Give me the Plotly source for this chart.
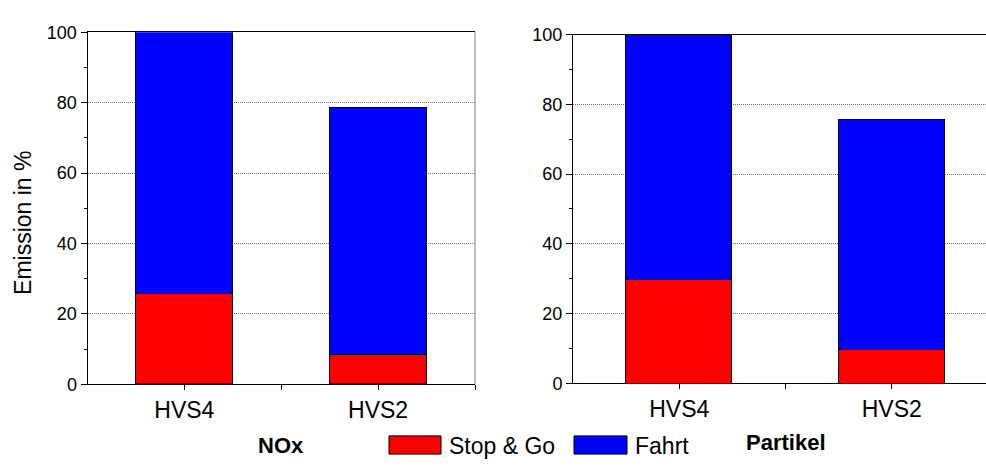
import plotly.graph_objects as go

categories = ["HVS4", "HVS2"]
cat_pos = [0, 1]
nox_stop_go = [25.6, 8.3]
nox_total = [100.0, 78.4]
partikel_stop_go = [29.6, 9.8]
partikel_total = [100.0, 75.7]
nox_fahrt = [t - s for t, s in zip(nox_total, nox_stop_go)]
partikel_fahrt = [t - s for t, s in zip(partikel_total, partikel_stop_go)]

RED = "#FF0000"
BLUE = "#0000FF"
FONT = "Arial, Liberation Sans, sans-serif"
W, H = 986, 466

fig = go.Figure()
for xa, ya, sg, fa in [("x", "y", nox_stop_go, nox_fahrt), ("x2", "y2", partikel_stop_go, partikel_fahrt)]:
    fig.add_trace(go.Bar(x=cat_pos, y=sg, name="Stop & Go", marker=dict(color=RED, line=dict(color="black", width=1)),
                         width=0.5, xaxis=xa, yaxis=ya, showlegend=False))
    fig.add_trace(go.Bar(x=cat_pos, y=fa, name="Fahrt", marker=dict(color=BLUE, line=dict(color="black", width=1)),
                         width=0.5, xaxis=xa, yaxis=ya, showlegend=False))

def xaxis(domain, rng):
    return dict(domain=domain, range=rng, tickvals=cat_pos, ticktext=categories, ticks="outside", ticklen=5,
                tickcolor="black", showline=True, linecolor="black", linewidth=1, mirror=True, showgrid=False,
                zeroline=False, tickfont=dict(family=FONT, size=23, color="black"),
                minor=dict(tickvals=[0.5, 1.5], ticks="outside", ticklen=5, tickcolor="black"))

def yaxis(domain, anchor):
    return dict(domain=domain, anchor=anchor, range=[0, 100], tickvals=[0, 20, 40, 60, 80, 100], ticks="outside",
                ticklen=6, tickcolor="black", showline=True, linecolor="black", linewidth=1, zeroline=False,
                showgrid=True, gridcolor="#6f6f6f", griddash="1px,1px", gridwidth=1,
                tickfont=dict(family=FONT, size=18, color="black"),
                minor=dict(tickvals=[10, 30, 50, 70, 90], ticks="outside", ticklen=3, tickcolor="black", showgrid=False))

fig.update_layout(
    width=W, height=H, margin=dict(l=0, r=0, t=0, b=0),
    paper_bgcolor="white", plot_bgcolor="white", barmode="stack", bargap=0,
    xaxis=xaxis([87.5 / W, 475 / W], [-0.5, 1.5]) | dict(anchor="y"),
    yaxis=yaxis([(H - 391) / H, (H - 23.3) / H], "x"),
    xaxis2=xaxis([573 / W, 1.0], [-0.5, 1.5 - 12 / 212]) | dict(anchor="y2"),
    yaxis2=yaxis([(H - 390) / H, (H - 25.7) / H], "x2"),
    showlegend=False,
)

# right border of the left panel (grey)
fig.add_shape(type="line", xref="x domain", yref="y domain", x0=1, x1=1, y0=0, y1=1,
              line=dict(color="#808080", width=1))

ann_font = dict(family=FONT, size=23, color="black")
fig.add_annotation(text="Emission in %", textangle=-90, xref="paper", yref="paper",
                   x=23.5 / W, y=(H - 223) / H, xanchor="center", yanchor="middle",
                   showarrow=False, font=ann_font)
fig.add_annotation(text="<b>NOx</b>", xref="paper", yref="paper", x=281 / W, y=(H - 455) / H,
                   xanchor="center", yanchor="middle", showarrow=False,
                   font=dict(family=FONT, size=22, color="black"))
fig.add_annotation(text="<b>Partikel</b>", xref="paper", yref="paper", x=786 / W, y=(H - 452) / H,
                   xanchor="center", yanchor="middle", showarrow=False,
                   font=dict(family=FONT, size=22, color="black"))

# custom legend
legend_items = [("Stop & Go", RED, 389, 441), ("Fahrt", BLUE, 574, 627)]
for label, color, x0, x1 in legend_items:
    fig.add_shape(type="rect", xref="paper", yref="paper", x0=x0 / W, x1=x1 / W,
                  y0=(H - 464) / H, y1=(H - 445) / H, fillcolor=color, line=dict(color="black", width=1))
    fig.add_annotation(text=label, xref="paper", yref="paper", x=(x1 + 6) / W, y=(H - 456) / H,
                       xanchor="left", yanchor="middle", showarrow=False, font=ann_font)

fig.write_html("out.html", config={"displayModeBar": False},
               post_script="document.body.style.margin='0';document.body.style.overflow='hidden';")
